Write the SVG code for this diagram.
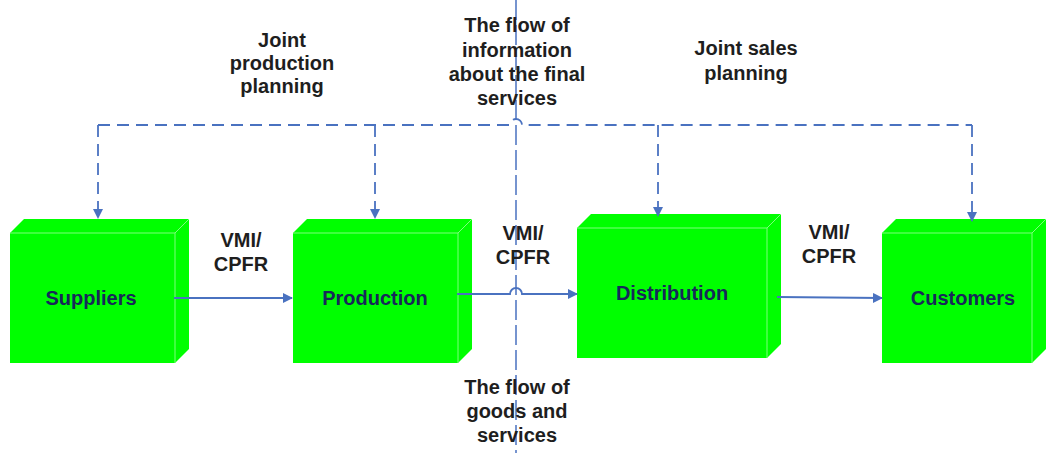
<svg xmlns="http://www.w3.org/2000/svg" width="1050" height="453" viewBox="0 0 1050 453">
<defs>
<marker id="ah" viewBox="0 0 10 10" refX="9" refY="5" markerWidth="10" markerHeight="10" markerUnits="userSpaceOnUse" orient="auto">
<path d="M0,0 L10,5 L0,10 z" fill="#4a72c0"/>
</marker>
<style>
.box{fill:#00ff00;}
.edge{fill:none;stroke:#7dff7d;stroke-width:1;}
.lbl{font-family:"Liberation Sans",Arial,sans-serif;font-weight:bold;font-size:20px;fill:#17285a;text-anchor:middle;}
.txt{font-family:"Liberation Sans",Arial,sans-serif;font-weight:bold;font-size:20px;fill:#1e1e1e;text-anchor:middle;}
.solid{fill:none;stroke:#4a72c0;stroke-width:1.8;}
.dash{fill:none;stroke:#4a72c0;stroke-width:1.8;stroke-dasharray:12,7;}
.vdash{fill:none;stroke:#4a72c0;stroke-width:1.5;stroke-dasharray:20,5;}
</style>
</defs>
<rect width="1050" height="453" fill="#fff"/>
<g id="suppliers">
<path class="box" d="M10,233 L24,219 H189 V349 L175,363 H10 Z"/>
<path class="edge" d="M10,233 H175 V363 M175,233 L189,219"/>
<text class="lbl" x="91" y="305">Suppliers</text>
</g>
<g id="production">
<path class="box" d="M293,233 L307,219 H472 V349 L458,363 H293 Z"/>
<path class="edge" d="M293,233 H458 V363 M458,233 L472,219"/>
<text class="lbl" x="375" y="305">Production</text>
</g>
<g id="distribution">
<path class="box" d="M577,228 L591,214 H781 V344 L767,358 H577 Z"/>
<path class="edge" d="M577,228 H767 V358 M767,228 L781,214"/>
<text class="lbl" x="672" y="300">Distribution</text>
</g>
<g id="customers">
<path class="box" d="M882,233 L896,219 H1046 V349 L1032,363 H882 Z"/>
<path class="edge" d="M882,233 H1032 V363 M1032,233 L1046,219"/>
<text class="lbl" x="963" y="305">Customers</text>
</g>
<g id="connectors">
<path class="vdash" d="M516,0 V453"/>
<path class="dash" d="M98,125 H510 A6,6 0 0 1 522,125 H972"/>
<path class="dash" d="M98,125 V218" marker-end="url(#ah)"/>
<path class="dash" d="M375,125 V218" marker-end="url(#ah)"/>
<path class="dash" d="M658,125 V216" marker-end="url(#ah)"/>
<path class="dash" d="M972,125 V221" marker-end="url(#ah)"/>
<path class="solid" d="M174,298 H292" marker-end="url(#ah)"/>
<path class="solid" d="M457,294 H510 A6,6 0 0 1 522,294 H577" marker-end="url(#ah)"/>
<path class="solid" d="M777,297 L882,298" marker-end="url(#ah)"/>
</g>
<g id="labels">
<text class="txt" x="282" y="47">Joint</text>
<text class="txt" x="282" y="70">production</text>
<text class="txt" x="282" y="93">planning</text>
<text class="txt" x="517" y="32">The flow of</text>
<text class="txt" x="517" y="57">information</text>
<text class="txt" x="517" y="81">about the final</text>
<text class="txt" x="517" y="105">services</text>
<text class="txt" x="746" y="55">Joint sales</text>
<text class="txt" x="746" y="80">planning</text>
<text class="txt" x="241" y="247">VMI/</text>
<text class="txt" x="241" y="271">CPFR</text>
<text class="txt" x="523" y="240">VMI/</text>
<text class="txt" x="523" y="264">CPFR</text>
<text class="txt" x="829" y="239">VMI/</text>
<text class="txt" x="829" y="263">CPFR</text>
<text class="txt" x="517" y="394">The flow of</text>
<text class="txt" x="517" y="418">goods and</text>
<text class="txt" x="517" y="442">services</text>
</g>
</svg>
